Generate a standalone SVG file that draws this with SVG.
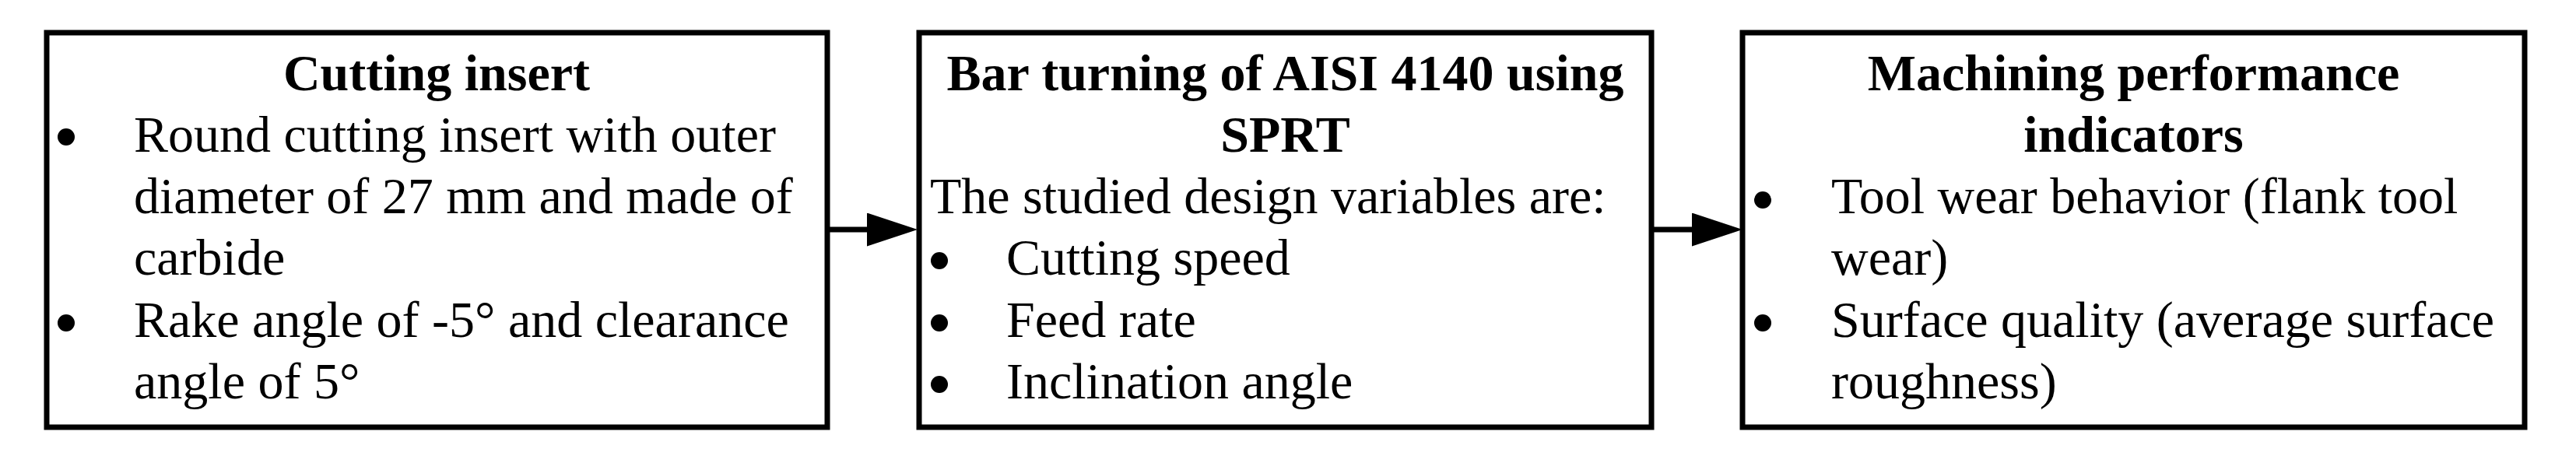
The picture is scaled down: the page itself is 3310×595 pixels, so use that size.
<svg xmlns="http://www.w3.org/2000/svg" width="3310" height="595" viewBox="0 0 3310 595">
  <style>
    .box { fill: #ffffff; stroke: #000000; stroke-width: 7; }
    .t { font-family: "Liberation Serif", "Times New Roman", serif; font-size: 66px; fill: #000000; }
    .b { font-weight: bold; text-anchor: middle; }
    .dot { fill: #000000; }
    .conn { stroke: #000000; stroke-width: 7; fill: none; }
  </style>
  <defs>
    <marker id="arrow" markerUnits="userSpaceOnUse" markerWidth="66" markerHeight="44" refX="0" refY="21.5" orient="auto">
      <path d="M0,0 L65,21.5 L0,43 Z" fill="#000000"/>
    </marker>
  </defs>
  <rect width="3310" height="595" fill="#ffffff"/>

  <g id="node-cutting-insert">
    <rect class="box" x="60" y="42" width="1003" height="507"/>
    <text class="t b" x="561" y="116">Cutting insert</text>
    <circle class="dot" cx="85" cy="176" r="11"/>
    <text class="t" x="172" y="195">Round cutting insert with outer</text>
    <text class="t" x="172" y="274">diameter of 27 mm and made of</text>
    <text class="t" x="172" y="353">carbide</text>
    <circle class="dot" cx="85" cy="415" r="11"/>
    <text class="t" x="172" y="433">Rake angle of -5° and clearance</text>
    <text class="t" x="172" y="512">angle of 5°</text>
  </g>

  <g id="node-bar-turning">
    <rect class="box" x="1181" y="42" width="941" height="507"/>
    <text class="t b" x="1651.5" y="116">Bar turning of AISI 4140 using</text>
    <text class="t b" x="1651.5" y="195">SPRT</text>
    <text class="t" x="1195" y="274">The studied design variables are:</text>
    <circle class="dot" cx="1207" cy="335" r="11"/>
    <text class="t" x="1293" y="353">Cutting speed</text>
    <circle class="dot" cx="1207" cy="415" r="11"/>
    <text class="t" x="1293" y="433">Feed rate</text>
    <circle class="dot" cx="1207" cy="494" r="11"/>
    <text class="t" x="1293" y="512">Inclination angle</text>
  </g>

  <g id="node-performance">
    <rect class="box" x="2239" y="42" width="1005" height="507"/>
    <text class="t b" x="2741.5" y="116">Machining performance</text>
    <text class="t b" x="2741.5" y="195">indicators</text>
    <circle class="dot" cx="2265" cy="257" r="11"/>
    <text class="t" x="2353" y="274">Tool wear behavior (flank tool</text>
    <text class="t" x="2353" y="353">wear)</text>
    <circle class="dot" cx="2265" cy="415" r="11"/>
    <text class="t" x="2353" y="433">Surface quality (average surface</text>
    <text class="t" x="2353" y="512">roughness)</text>
  </g>

  <g id="connectors">
    <line class="conn" x1="1063" y1="295" x2="1114" y2="295" marker-end="url(#arrow)"/>
    <line class="conn" x1="2122" y1="295" x2="2174" y2="295" marker-end="url(#arrow)"/>
  </g>
</svg>
